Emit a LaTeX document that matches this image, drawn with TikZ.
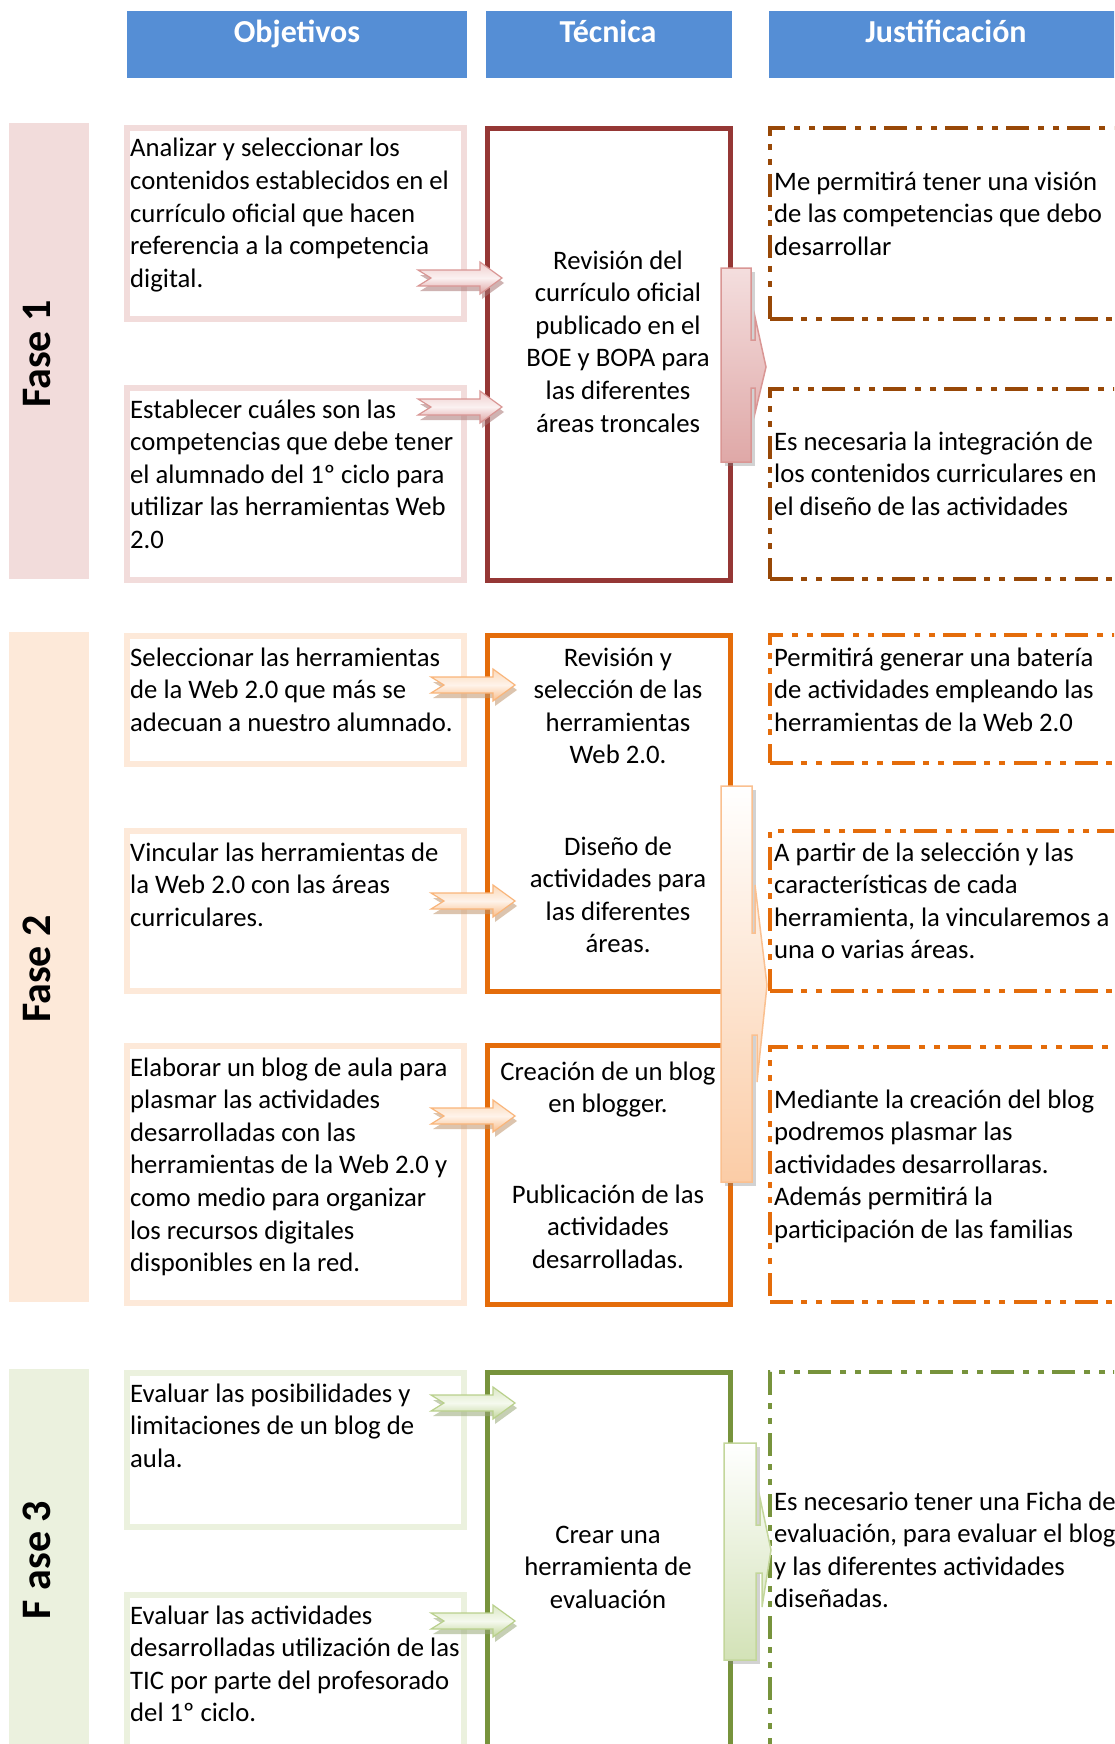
\documentclass[tikz,border=0pt]{standalone}
\usepackage{fontspec}
\setmainfont{Carlito}
\definecolor{hdrblue}{HTML}{558ED5}
\definecolor{band1}{HTML}{F2DCDB}
\definecolor{band2}{HTML}{FDE9D9}
\definecolor{band3}{HTML}{EBF1DE}
\definecolor{tec1}{HTML}{953735}
\definecolor{jus1}{HTML}{984807}
\definecolor{tec2}{HTML}{E46C0A}
\definecolor{tec3}{HTML}{77933C}
\definecolor{a1edge}{HTML}{D99694}
\definecolor{a1top}{HTML}{EFCDCC}
\definecolor{a1mid}{HTML}{FBF1F1}
\definecolor{a1bot}{HTML}{DDA2A1}
\definecolor{a1sh}{HTML}{A87574}
\definecolor{a2edge}{HTML}{F9B57A}
\definecolor{a2top}{HTML}{FCD9B8}
\definecolor{a2mid}{HTML}{FEF3EA}
\definecolor{a2bot}{HTML}{F8BD8A}
\definecolor{a2sh}{HTML}{C0956C}
\definecolor{a3edge}{HTML}{B9D08C}
\definecolor{a3top}{HTML}{DCE8C6}
\definecolor{a3mid}{HTML}{F5F9EE}
\definecolor{a3bot}{HTML}{C2D69C}
\definecolor{a3sh}{HTML}{98A878}
\definecolor{b1edge}{HTML}{D99694}
\definecolor{b1top}{HTML}{F4DEDE}
\definecolor{b1bot}{HTML}{DFA8A7}
\definecolor{b2edge}{HTML}{FAC090}
\definecolor{b2bot}{HTML}{FBCCA6}
\definecolor{b3edge}{HTML}{C3D69B}
\definecolor{b3bot}{HTML}{D3E2B7}
\newcommand\smallarrow[4]{%
  \fill[#4,opacity=.55,shift={(#1+2,#2+5)}] (0,-8) -- (62,-8) -- (62,-16) -- (84,0) -- (62,16) -- (62,8) -- (0,8) -- (13,0) -- cycle;
  \draw[#3,shift={(#1,#2)}] (0,-8) -- (62,-8) -- (62,-16) -- (84,0) -- (62,16) -- (62,8) -- (0,8) -- (13,0) -- cycle;
}
\tikzset{
  hdr/.style={fill=hdrblue, draw=none, inner sep=0, outer sep=0, anchor=north west},
  htxt/.style={text=white, font=\fontsize{32}{38}\selectfont\bfseries, inner sep=0, anchor=base},
  band/.style={draw=none, inner sep=0, outer sep=0, anchor=north west, minimum width=80},
  phase/.style={font=\fontsize{42}{50}\selectfont\bfseries, inner sep=0, rotate=90, anchor=center},
  objbox/.style={draw, line width=5.5pt, inner sep=0, outer sep=0, anchor=north west, minimum width=337},
  tecbox/.style={draw, line width=5pt, inner sep=0, outer sep=0, anchor=north west, minimum width=243},
  jusbox/.style={draw, line width=4.5pt, inner sep=0, outer sep=0, anchor=north west, minimum width=400,
     dash pattern=on 23pt off 8pt on 6pt off 9pt on 6pt off 9pt},
  txt/.style={font=\fontsize{26.7}{32.6}\selectfont, inner sep=0, align=left, anchor=base west},
  ctxt/.style={font=\fontsize{26.7}{32.6}\selectfont, inner sep=0, align=center, anchor=base},
  arr1/.style={draw=a1edge, line width=1.2pt, top color=a1top, bottom color=a1bot, middle color=a1mid},
  arr2/.style={draw=a2edge, line width=1.2pt, top color=a2top, bottom color=a2bot, middle color=a2mid},
  arr3/.style={draw=a3edge, line width=1.2pt, top color=a3top, bottom color=a3bot, middle color=a3mid},
}
\begin{document}
\begin{tikzpicture}[x=1pt,y=-1pt]
\useasboundingbox (0,0) rectangle (1114,1744);
\clip (0,0) rectangle (1114,1744);
\fill[white] (0,0) rectangle (1114,1744);
% headers
\node[hdr, minimum width=340, minimum height=67] (hobj) at (127,11) {};
\node[hdr, minimum width=246, minimum height=67] (htec) at (486,11) {};
\node[hdr, minimum width=361, minimum height=67] (hjus) at (769,11) {};
\node[htxt] (hobjt) at (297,43) {Objetivos};
\node[htxt] (htect) at (608,43) {Técnica};
\node[htxt] (hjust) at (946,43) {Justificación};
% phase bands
\node[band, fill=band1, minimum height=456] (f1) at (9,123) {};
\node[band, fill=band2, minimum height=670] (f2) at (9,632) {};
\node[band, fill=band3, minimum height=400] (f3) at (9,1369) {};
\node[phase] (f1t) at (37,354) {Fase 1};
\node[phase] (f2t) at (37,969) {Fase 2};
\node[phase] (f3t) at (37,1560) {F ase 3};
% objective boxes
\node[objbox, draw=band1, minimum height=191] (o11) at (127,128) {};
\node[objbox, draw=band1, minimum height=192] (o12) at (127,388) {};
\node[objbox, draw=band2, minimum height=128] (o21) at (127,636) {};
\node[objbox, draw=band2, minimum height=160] (o22) at (127,831) {};
\node[objbox, draw=band2, minimum height=257] (o23) at (127,1046) {};
\node[objbox, draw=band3, minimum height=154] (o31) at (127,1373) {};
\node[objbox, draw=band3, minimum height=200] (o32) at (127,1595) {};
% tecnica boxes
\node[tecbox, draw=tec1, minimum height=452] (t1) at (487.5,128.5) {};
\node[tecbox, draw=tec2, minimum height=356] (t2a) at (487.5,635.5) {};
\node[tecbox, draw=tec2, minimum height=259] (t2b) at (487.5,1045.5) {};
\node[tecbox, draw=tec3, minimum height=420] (t3) at (487.5,1372.5) {};
% justification boxes
\node[jusbox, draw=jus1, minimum height=191] (j11) at (770,128) {};
\node[jusbox, draw=jus1, minimum height=190] (j12) at (770,389) {};
\node[jusbox, draw=tec2, minimum height=128] (j21) at (770,635) {};
\node[jusbox, draw=tec2, minimum height=160] (j22) at (770,831) {};
\node[jusbox, draw=tec2, minimum height=255] (j23) at (770,1047) {};
\node[jusbox, draw=tec3, minimum height=420] (j3) at (770,1372) {};
% objective texts (base = last line)
\node[txt] (o11t) at (130,287.4) {Analizar y seleccionar los\\contenidos establecidos en el\\currículo oficial que hacen\\referencia a la competencia\\digital.};
\node[txt] (o12t) at (130,548.4) {Establecer cuáles son las\\competencias que debe tener\\el alumnado del 1º ciclo para\\utilizar las herramientas Web\\2.0};
\node[txt] (o21t) at (130,731.2) {Seleccionar las herramientas\\de la Web 2.0 que más se\\adecuan a nuestro alumnado.};
\node[txt] (o22t) at (130,926.2) {Vincular las herramientas de\\la Web 2.0 con las áreas\\curriculares.};
\node[txt] (o23t) at (130,1271.6) {Elaborar un blog de aula para\\plasmar las actividades\\desarrolladas con las\\herramientas de la Web 2.0 y\\como medio para organizar\\los recursos digitales\\disponibles en la red.};
\node[txt] (o31t) at (130,1467.2) {Evaluar las posibilidades y\\limitaciones de un blog de\\aula.};
\node[txt] (o32t) at (130,1721.8) {Evaluar las actividades\\desarrolladas utilización de las\\TIC por parte del profesorado\\del 1º ciclo.};
% tecnica texts
\node[ctxt] (t1t) at (618,432) {Revisión del\\currículo oficial\\publicado en el\\BOE y BOPA para\\las diferentes\\áreas troncales};
\node[ctxt] (t2at) at (618,763.8) {Revisión y\\selección de las\\herramientas\\Web 2.0.};
\node[ctxt] (t2at2) at (618,952.8) {Diseño de\\actividades para\\las diferentes\\áreas.};
\node[ctxt] (t2bt) at (608,1112.6) {Creación de un blog\\en blogger.};
\node[ctxt] (t2bt2) at (608,1268.2) {Publicación de las\\actividades\\desarrolladas.};
\node[ctxt] (t3t) at (608,1608.2) {Crear una\\herramienta de\\evaluación};
% justification texts
\node[txt] (j11t) at (774,255.2) {Me permitirá tener una visión\\de las competencias que debo\\desarrollar};
\node[txt] (j12t) at (774,515.2) {Es necesaria la integración de\\los contenidos curriculares en\\el diseño de las actividades};
\node[txt] (j21t) at (774,731.2) {Permitirá generar una batería\\de actividades empleando las\\herramientas de la Web 2.0};
\node[txt] (j22t) at (774,958.8) {A partir de la selección y las\\características de cada\\herramienta, la vincularemos a\\una o varias áreas.};
\node[txt] (j23t) at (774,1238.4) {Mediante la creación del blog\\podremos plasmar las\\actividades desarrollaras.\\Además permitirá la\\participación de las familias};
\node[txt] (j3t) at (774,1607.8) {Es necesario tener una Ficha de\\evaluación, para evaluar el blog\\y las diferentes actividades\\diseñadas.};
% small arrows
\smallarrow{418}{278}{arr1}{a1sh}
\smallarrow{418}{407}{arr1}{a1sh}
\smallarrow{431}{685}{arr2}{a2sh}
\smallarrow{431}{901}{arr2}{a2sh}
\smallarrow{431}{1116}{arr2}{a2sh}
\smallarrow{431}{1403}{arr3}{a3sh}
\smallarrow{431}{1621}{arr3}{a3sh}
% big arrows
\fill[gray,opacity=.35,shift={(4,4)}] (721,268) -- (751,268) -- (751,462) -- (721,462) -- cycle;
\draw[draw=b1edge, line width=1.5pt, top color=b1top, bottom color=b1bot] (721,268) -- (751,268) -- (751,340) -- (755,340) -- (755,317) -- (766,367) -- (755,413) -- (755,388) -- (751,388) -- (751,462) -- (721,462) -- cycle;
\fill[gray,opacity=.35,shift={(4,4)}] (721,786) -- (752,786) -- (752,1182) -- (721,1182) -- cycle;
\draw[draw=b2edge, line width=1.5pt, top color=white, bottom color=b2bot] (721,786) -- (752,786) -- (752,933) -- (755,933) -- (755,885) -- (767,985) -- (757,1082) -- (757,1035) -- (752,1035) -- (752,1182) -- (721,1182) -- cycle;
\fill[gray,opacity=.35,shift={(4,4)}] (724,1443) -- (756,1443) -- (756,1660) -- (724,1660) -- cycle;
\draw[draw=b3edge, line width=1.5pt, top color=white, bottom color=b3bot] (724,1443) -- (756,1443) -- (756,1525) -- (760,1525) -- (760,1498) -- (771,1550) -- (762,1607) -- (762,1573) -- (756,1573) -- (756,1660) -- (724,1660) -- cycle;
\end{tikzpicture}
\end{document}
